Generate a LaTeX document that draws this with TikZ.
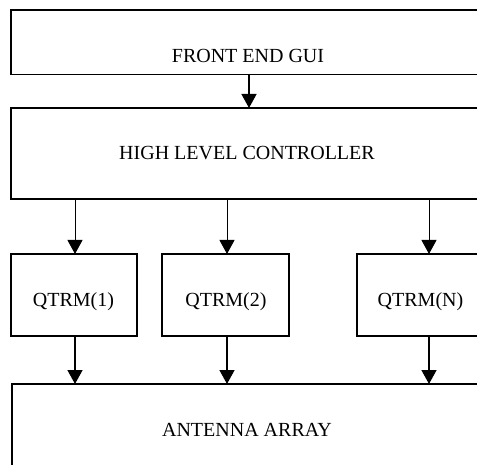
\documentclass[tikz,border=0pt]{standalone}
\usepackage{fontspec}
\setmainfont{Liberation Serif}
\usetikzlibrary{arrows.meta}
\begin{document}
\begin{tikzpicture}[x=1pt,y=-1pt,
  box/.style={draw, line width=1.5pt, rectangle, inner sep=0pt, outer sep=0pt},
  lbl/.style={anchor=base, inner sep=0pt, font=\fontsize{20}{24}\selectfont},
  arr/.style={-{Triangle[length=14pt,width=15pt]}, line width=1.4pt},
  thinarr/.style={-{Triangle[length=14pt,width=15pt]}, line width=1pt}]
\useasboundingbox (0,0) rectangle (477,465);
\clip (0,0) rectangle (477,465);
\fill[white] (0,0) rectangle (477,465);
% boxes
\node[box, minimum width=473pt, minimum height=64.5pt] (fe) at (247.5,42.25) {};
\node[box, minimum width=473pt, minimum height=91pt] (hlc) at (247.5,153.5) {};
\node[box, minimum width=126pt, minimum height=82pt] (q1) at (74,295) {};
\node[box, minimum width=127pt, minimum height=82pt] (q2) at (225.5,295) {};
\node[box, minimum width=127pt, minimum height=82pt] (qn) at (420.5,295) {};
\node[box, minimum width=472pt, minimum height=116pt] (ant) at (248,442) {};
% labels
\node[lbl] (tfe) at (248,63) {FRONT END GUI};
\node[lbl] (thlc) at (247,160) {HIGH LEVEL CONTROLLER};
\node[lbl] (tq1) at (73.5,307) {QTRM(1)};
\node[lbl] (tq2) at (226,307) {QTRM(2)};
\node[lbl] (tqn) at (420.5,307) {QTRM(N)};
\node[lbl] (tant) at (247,436) {ANTENNA ARRAY};
% arrow columns
\coordinate (c0) at (249,0);
\coordinate (c1) at (75,0);
\coordinate (c2) at (227,0);
\coordinate (c3) at (429,0);
% connectors
\draw[arr] (fe.south -| c0) -- (hlc.north -| c0);
\draw[thinarr] (hlc.south -| c1) -- (q1.north -| c1);
\draw[thinarr] (hlc.south -| c2) -- (q2.north -| c2);
\draw[thinarr] (hlc.south -| c3) -- (qn.north -| c3);
\draw[arr] (q1.south -| c1) -- (ant.north -| c1);
\draw[arr] (q2.south -| c2) -- (ant.north -| c2);
\draw[arr] (qn.south -| c3) -- (ant.north -| c3);
\end{tikzpicture}
\end{document}
